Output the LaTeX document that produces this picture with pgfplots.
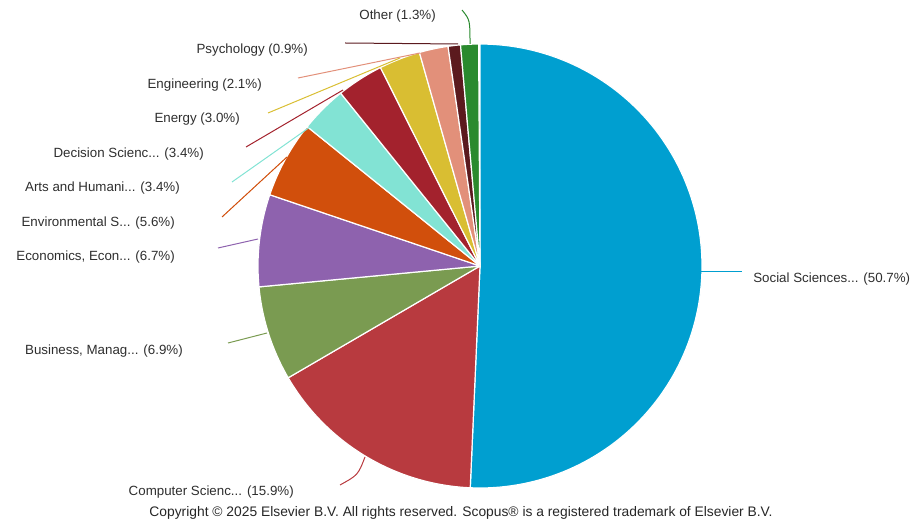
\documentclass[border=0pt]{standalone}
\usepackage{pgfplots}
\pgfplotsset{compat=1.18}
\usepackage{fontspec}
\setmainfont{Liberation Sans}
\definecolor{cSoc}{HTML}{009FD0}
\definecolor{cCS}{HTML}{B83A3F}
\definecolor{cBus}{HTML}{7A9B51}
\definecolor{cEco}{HTML}{8E62AE}
\definecolor{cEnv}{HTML}{D14F0C}
\definecolor{cArt}{HTML}{82E3D4}
\definecolor{cDec}{HTML}{A3222D}
\definecolor{cEne}{HTML}{D9BE32}
\definecolor{cEng}{HTML}{E2907A}
\definecolor{cPsy}{HTML}{5B1A1E}
\definecolor{cOth}{HTML}{2A8A2E}
\definecolor{txt}{HTML}{2E2E2E}
% #1 cumulative start (%), #2 value (%), #3 colour
\newcommand\pieslice[3]{%
  \pgfmathsetmacro\angA{90-3.6*(#1)}%
  \pgfmathsetmacro\angB{90-3.6*(#1+#2)}%
  \edef\doslice{\noexpand\addplot[fill=#3, draw=white, line width=0.9pt, line join=round,
    domain=\angB:\angA, samples=120, variable=\noexpand\t]
    ({480+222*cos(\noexpand\t)},{259+222*sin(\noexpand\t)}) -- (axis cs:480,259) -- cycle;}%
  \doslice}
\begin{document}
\begin{tikzpicture}
\begin{axis}[
  scale only axis, width=687pt, height=393.75pt,
  xmin=0, xmax=916, ymin=0, ymax=525,
  hide axis, clip=false,
]
\path (axis cs:0,0) rectangle (axis cs:916,525);
% slices: start %, value %
\pieslice{0}{50.7}{cSoc}
\pieslice{50.7}{15.9}{cCS}
\pieslice{66.6}{6.9}{cBus}
\pieslice{73.5}{6.7}{cEco}
\pieslice{80.2}{5.6}{cEnv}
\pieslice{85.8}{3.4}{cArt}
\pieslice{89.2}{3.4}{cDec}
\pieslice{92.6}{3.0}{cEne}
\pieslice{95.6}{2.1}{cEng}
\pieslice{97.7}{0.9}{cPsy}
\pieslice{98.6}{1.3}{cOth}
% connectors (y = 525 - pixel row)
\draw[cOth, line width=0.75pt] (axis cs:462,515) .. controls (axis cs:470,505) .. (axis cs:470,481);
\draw[cPsy, line width=0.75pt] (axis cs:345,482) -- (axis cs:458,481);
\draw[cEng, line width=0.75pt] (axis cs:298,447) -- (axis cs:420,472);
\draw[cEne, line width=0.75pt] (axis cs:268,412) -- (axis cs:400,467);
\draw[cDec, line width=0.75pt] (axis cs:246,378) -- (axis cs:343,435);
\draw[cArt, line width=0.75pt] (axis cs:232,343) -- (axis cs:310,398);
\draw[cEnv, line width=0.75pt] (axis cs:222,308) -- (axis cs:287,368);
\draw[cEco, line width=0.75pt] (axis cs:218,277) -- (axis cs:258,286);
\draw[cBus, line width=0.75pt] (axis cs:228,182) -- (axis cs:267,192);
\draw[cCS, line width=0.75pt] (axis cs:340,40) .. controls (axis cs:358,50) .. (axis cs:365,68);
\draw[cSoc, line width=0.75pt] (axis cs:701,253) -- (axis cs:742,253);
% labels
\begingroup
\fontsize{10.3}{12}\selectfont
\node[anchor=east, text=txt, inner sep=0pt] at (axis cs:436,509) {Other (1.3\%)};
\node[anchor=east, text=txt, inner sep=0pt] at (axis cs:308,475) {Psychology (0.9\%)};
\node[anchor=east, text=txt, inner sep=0pt] at (axis cs:262,440) {Engineering (2.1\%)};
\node[anchor=east, text=txt, inner sep=0pt] at (axis cs:240,406) {Energy (3.0\%)};
\node[anchor=east, text=txt, inner sep=0pt] at (axis cs:204,371) {Decision Scienc... (3.4\%)};
\node[anchor=east, text=txt, inner sep=0pt] at (axis cs:180,337) {Arts and Humani... (3.4\%)};
\node[anchor=east, text=txt, inner sep=0pt] at (axis cs:175,302) {Environmental S... (5.6\%)};
\node[anchor=east, text=txt, inner sep=0pt] at (axis cs:175,268) {Economics, Econ... (6.7\%)};
\node[anchor=east, text=txt, inner sep=0pt] at (axis cs:183,174) {Business, Manag... (6.9\%)};
\node[anchor=east, text=txt, inner sep=0pt] at (axis cs:294,33) {Computer Scienc... (15.9\%)};
\node[anchor=west, text=txt, inner sep=0pt] at (axis cs:753,246) {Social Sciences... (50.7\%)};
\endgroup
\node[text=black!85, inner sep=0pt, font=\fontsize{10.37}{12}\selectfont] at (axis cs:461,12) {Copyright © 2025 Elsevier B.V. All rights reserved. Scopus® is a registered trademark of Elsevier B.V.};
\end{axis}
\end{tikzpicture}
\end{document}
